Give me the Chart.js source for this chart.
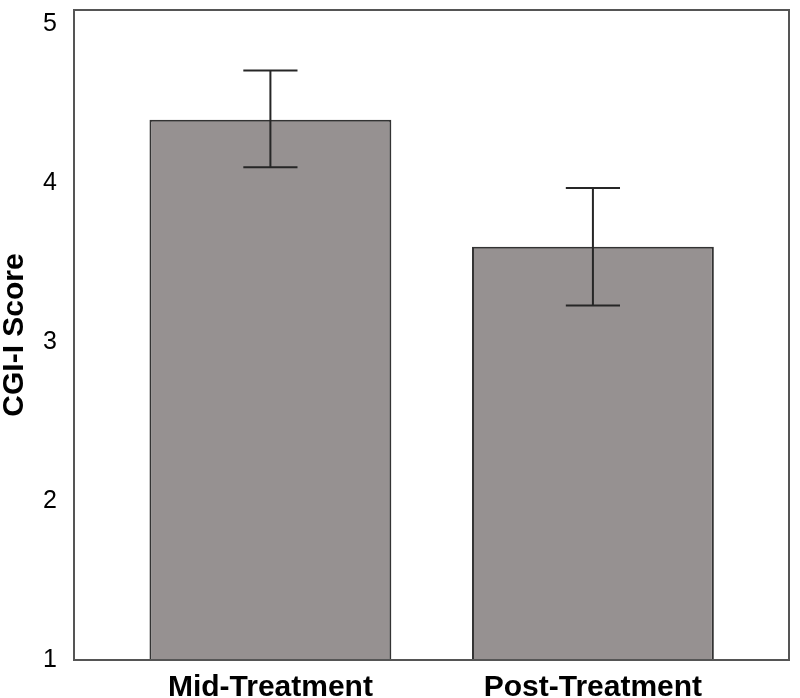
<!DOCTYPE html>
<html>
<head>
<meta charset="utf-8">
<script src="https://cdn.jsdelivr.net/npm/chart.js@4/dist/chart.umd.min.js"></script>
<style>
  html, body { margin: 0; padding: 0; background: #fff; }
  #wrap { width: 800px; height: 698px; }
</style>
</head>
<body>
<div id="wrap"><canvas id="myChart" width="800" height="698"></canvas></div>
<script>
const categories = ['Mid-Treatment', 'Post-Treatment'];
const means = [4.40, 3.60];
const errHigh = [4.71, 3.97];
const errLow = [4.10, 3.23];
const yTicks = [1, 2, 3, 4, 5];

// error bars, drawn through the scales
const errorBars = {
  id: 'errorBars',
  afterDatasetsDraw(chart) {
    const ctx = chart.ctx;
    const meta = chart.getDatasetMeta(0);
    const y = chart.scales.y;
    ctx.save();
    ctx.strokeStyle = '#262626';
    ctx.lineWidth = 2;
    meta.data.forEach(function (bar, i) {
      const x = bar.x;
      const yh = y.getPixelForValue(errHigh[i]);
      const yl = y.getPixelForValue(errLow[i]);
      const cap = bar.width * 0.112;
      ctx.beginPath();
      ctx.moveTo(x, yh); ctx.lineTo(x, yl);
      ctx.moveTo(x - cap, yh); ctx.lineTo(x + cap, yh);
      ctx.moveTo(x - cap, yl); ctx.lineTo(x + cap, yl);
      ctx.stroke();
    });
    ctx.restore();
  }
};

// box round the plot area
const frame = {
  id: 'frame',
  afterDraw(chart) {
    const a = chart.chartArea;
    const ctx = chart.ctx;
    ctx.save();
    ctx.strokeStyle = '#555';
    ctx.lineWidth = 2;
    ctx.strokeRect(a.left, a.top, a.right - a.left, a.bottom - a.top);
    ctx.restore();
  }
};

const data = {
  datasets: [{
    data: categories.map(function (c, i) { return { x: i, y: means[i] }; }),
    backgroundColor: '#969191',
    borderColor: '#333',
    borderWidth: 2,
    barPercentage: 0.75,
    categoryPercentage: 1
  }]
};

const config = {
  type: 'bar',
  data: data,
  options: {
    responsive: false,
    animation: false,
    layout: { padding: { top: 10, right: 11, left: 0, bottom: 0 } },
    plugins: { legend: { display: false }, tooltip: { enabled: false } },
    scales: {
      x: {
        type: 'linear',
        offset: false,
        min: -0.609,
        max: 1.608,
        grid: { display: false, offset: false },
        border: { display: false },
        afterFit: function (s) { s.height = 38; s.paddingLeft = 0; s.paddingRight = 0; },
        afterBuildTicks: function (s) { s.ticks = categories.map(function (c, i) { return { value: i }; }); },
        ticks: {
          padding: 2,
          autoSkip: false,
          maxRotation: 0,
          color: '#000',
          font: { family: 'Liberation Sans, Arial', size: 30, weight: 'bold' },
          callback: function (v) { return categories[v] !== undefined ? categories[v] : ''; }
        }
      },
      y: {
        min: 1,
        max: 5.09,
        grid: { display: false },
        border: { display: false },
        afterFit: function (s) { s.width = 74; s.paddingTop = 0; s.paddingBottom = 0; },
        afterBuildTicks: function (s) { s.ticks = yTicks.map(function (v) { return { value: v }; }); },
        title: {
          display: true,
          text: 'CGI-I Score',
          color: '#000',
          padding: { top: 0, bottom: 0 },
          font: { family: 'Liberation Sans, Arial', size: 30, weight: 'bold', lineHeight: 1 }
        },
        ticks: {
          padding: 9,
          color: '#000',
          font: { family: 'Liberation Sans, Arial', size: 25 }
        }
      }
    }
  },
  plugins: [errorBars, frame]
};

var myChart = new Chart(document.getElementById('myChart'), config);
</script>
</body>
</html>
